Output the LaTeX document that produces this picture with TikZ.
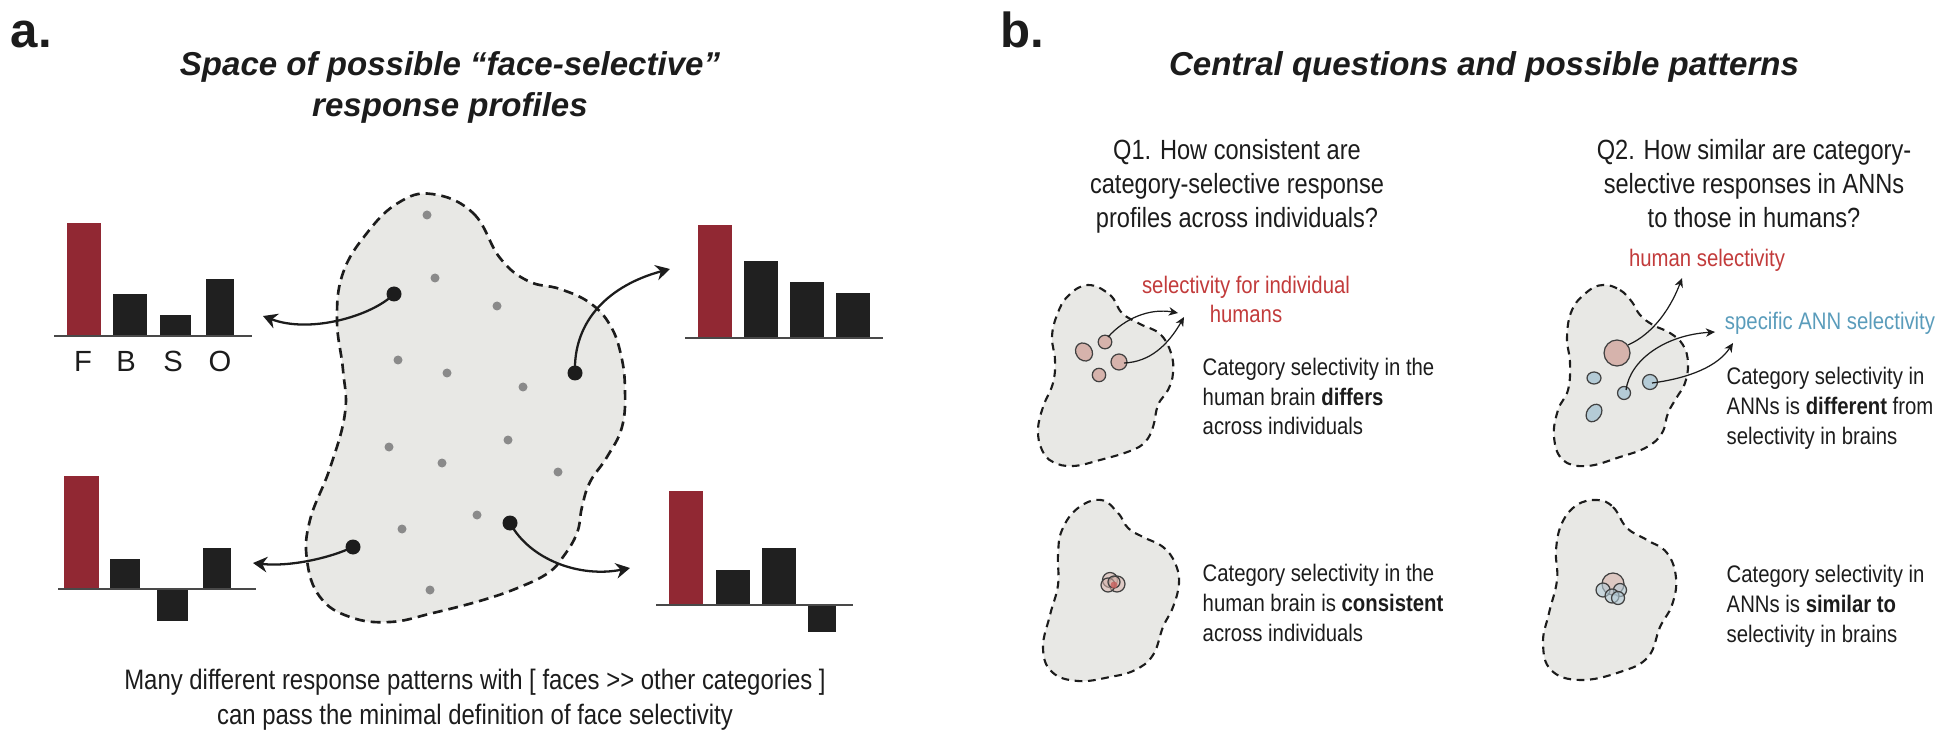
\documentclass[tikz,border=0pt]{standalone}
\usepackage{fontspec}
\setmainfont{Liberation Sans}
\newfontfamily\narrowfont[FakeStretch=0.85]{Liberation Sans}
\usetikzlibrary{arrows.meta}
\definecolor{barred}{HTML}{912833}
\definecolor{barblack}{HTML}{202020}
\definecolor{blobfill}{HTML}{E8E8E5}
\definecolor{dotgray}{HTML}{8A8A8A}
\definecolor{labelred}{HTML}{C23B3B}
\definecolor{labelblue}{HTML}{5A9CBB}
\definecolor{pinkfill}{HTML}{D6B3AC}
\definecolor{bluefill}{HTML}{B4CBD6}
\definecolor{inkdark}{HTML}{1C1C1C}
\tikzset{
  bigblob/.style={fill=blobfill, draw=inkdark, line width=0.75pt, dash pattern=on 2.8pt off 1.7pt},
  smallblob/.style={fill=blobfill, draw=inkdark, line width=0.6pt, dash pattern=on 2.2pt off 1.6pt},
  graydot/.style={fill=dotgray},
  bigdot/.style={fill=inkdark},
  redbar/.style={fill=barred},
  blackbar/.style={fill=barblack},
  axisline/.style={draw=inkdark!80, line width=0.45pt},
  bigarrow/.style={-{Stealth[length=4pt,width=4.4pt,inset=1.3pt]}, line width=0.65pt, draw=inkdark},
  thinarrow/.style={-{Stealth[length=2.6pt,width=2.4pt,inset=0.8pt]}, line width=0.35pt, draw=inkdark},
  pinkspot/.style={fill=pinkfill, draw=black!75, line width=0.35pt},
  bluespot/.style={fill=bluefill, draw=black!75, line width=0.35pt},
  panellabel/.style={font=\fontsize{14}{16}\selectfont\bfseries, anchor=base west, inner sep=0pt, text=inkdark},
  titletext/.style={font=\fontsize{9.4}{11.9}\selectfont\bfseries\itshape, align=center, anchor=base, inner sep=0pt, text=inkdark},
  qtext/.style={font=\narrowfont\fontsize{7.9}{9.8}\selectfont, align=center, anchor=base, inner sep=0pt, text=inkdark},
  bottomtext/.style={font=\narrowfont\fontsize{8.0}{9.7}\selectfont, align=center, anchor=base, inner sep=0pt, text=inkdark},
  bodytext/.style={font=\narrowfont\fontsize{6.8}{8.4}\selectfont, align=left, anchor=base west, inner sep=0pt, text=inkdark},
  redlabel/.style={font=\narrowfont\fontsize{6.8}{8.5}\selectfont, align=center, anchor=base, inner sep=0pt, text=labelred},
  bluelabel/.style={font=\narrowfont\fontsize{6.8}{8.5}\selectfont, align=center, anchor=base, inner sep=0pt, text=labelblue},
  catlabel/.style={font=\fontsize{8.3}{10}\selectfont, anchor=base, inner sep=0pt, text=inkdark}
}
\begin{document}
\begin{tikzpicture}[x=0.01cm,y=-0.01cm]
\useasboundingbox (0,0) rectangle (1946,752);

% ---------------- panel a ----------------
% (multi-line nodes: the base anchor is the baseline of the last line)
\node[panellabel] (labA) at (10,48) {a.};
\node[titletext] (titleA) at (450,117) {Space of possible “face-selective”\\response profiles};

% blob
\draw[bigblob] plot[smooth cycle, tension=0.7] coordinates {
 (432,194) (473,213) (500,258) (528,281) (560,289) (590,303) (610,325) (621,355) (625,390) (622,427)
 (607,457) (590,482) (582,507) (577,533) (563,557) (548,573) (520,587) (483,600) (433,613) (390,622)
 (350,617) (320,597) (307,560) (310,520) (330,468) (345,413) (343,370) (337,320) (343,273) (367,233) (398,203)};

% gray dots
\foreach \p in {(427,215),(435,278),(497,306),(398,360),(447,373),(523,387),(508,440),(389,447),(442,463),(558,472),(477,515),(402,529),(430,590)}
  \fill[graydot] \p circle[radius=4.5];

% response points
\coordinate (pA) at (394,294);
\coordinate (pB) at (353,547);
\coordinate (pC) at (510,523);
\coordinate (pD) at (575,373);
\coordinate (tipTL) at (263,316);
\coordinate (tipBL) at (253,563);
\coordinate (tipTR) at (670,269);
\coordinate (tipBR) at (630,568);

\draw[bigarrow] (pA) .. controls (372,316) and (310,334) .. (tipTL);
\draw[bigarrow] (pB) .. controls (330,558) and (290,567) .. (tipBL);
\draw[bigarrow] (pD) .. controls (573,320) and (610,285) .. (tipTR);
\draw[bigarrow] (pC) .. controls (530,560) and (580,578) .. (tipBR);
\foreach \c in {pA,pB,pC,pD} \fill[bigdot] (\c) circle[radius=7.5];

% top-left chart
\fill[redbar] (67,223) rectangle (101,336);
\fill[blackbar] (113,294) rectangle (147,336);
\fill[blackbar] (160,315) rectangle (191,336);
\fill[blackbar] (206,279) rectangle (234,336);
\draw[axisline] (54,336) -- (252,336);
\node[catlabel] (lF) at (83,371) {F};
\node[catlabel] (lB) at (126,371) {B};
\node[catlabel] (lS) at (173,371) {S};
\node[catlabel] (lO) at (220,371) {O};

% bottom-left chart
\fill[redbar] (64,476) rectangle (99,589);
\fill[blackbar] (110,559) rectangle (140,589);
\fill[blackbar] (157,589) rectangle (188,621);
\fill[blackbar] (203,548) rectangle (231,589);
\draw[axisline] (58,589) -- (256,589);

% top-right chart
\fill[redbar] (698,225) rectangle (732,338);
\fill[blackbar] (744,261) rectangle (778,338);
\fill[blackbar] (790,282) rectangle (824,338);
\fill[blackbar] (836,293) rectangle (870,338);
\draw[axisline] (685,338) -- (883,338);

% bottom-right chart
\fill[redbar] (669,491) rectangle (703,605);
\fill[blackbar] (716,570) rectangle (750,605);
\fill[blackbar] (762,548) rectangle (796,605);
\fill[blackbar] (808,605) rectangle (836,632);
\draw[axisline] (656,605) -- (853,605);

\node[bottomtext] (noteA) at (475,724) {Many different response patterns with [ faces >\kern0pt> other categories ]\\can pass the minimal definition of face selectivity};

% ---------------- panel b ----------------
\node[panellabel] (labB) at (1000,48) {b.};
\node[titletext] (titleB) at (1484,76) {Central questions and possible patterns};

\node[qtext] (q1) at (1237,228) {Q1. How consistent are\\category-selective response\\profiles across individuals?};
\node[qtext] (q2) at (1754,228) {Q2. How similar are category-\\selective responses in ANNs\\to those in humans?};

% left column, upper blob
\draw[smallblob] plot[smooth cycle, tension=0.7] coordinates {
 (1088,285) (1110,295) (1122,313) (1140,324) (1160,334) (1171,353) (1173,373) (1168,390) (1158,405)
 (1153,427) (1145,442) (1130,451) (1100,460) (1073,466) (1053,462) (1042,450) (1038,430) (1043,407)
 (1053,383) (1055,360) (1052,337) (1057,315) (1068,296)};
\draw[pinkspot, rotate around={35:(1084,352)}] (1084,352) ellipse[x radius=8, y radius=9.5];
\draw[pinkspot] (1105,342) circle[radius=6.8];
\draw[pinkspot] (1119,362) circle[radius=8];
\draw[pinkspot] (1099,375) circle[radius=6.7];
\coordinate (s1) at (1108,337);
\coordinate (s2) at (1124,363);
\coordinate (t1) at (1178,313);
\coordinate (t2) at (1184,317);
\draw[thinarrow] (s1) .. controls (1125,318) and (1150,308) .. (t1);
\draw[thinarrow] (s2) .. controls (1150,362) and (1168,345) .. (t2);
\node[redlabel] (indiv) at (1246,323) {selectivity for individual\\humans};
\node[bodytext] (d1) at (1202,435) {Category selectivity in the\\human brain \textbf{differs}\\across individuals};

% left column, lower blob
\draw[smallblob] plot[smooth cycle, tension=0.7] coordinates {
 (1101,500) (1118,513) (1128,528) (1143,537) (1163,547) (1175,563) (1179,583) (1173,607) (1163,627)
 (1153,655) (1135,670) (1110,677) (1078,681) (1052,672) (1043,648) (1050,615) (1058,585) (1058,555)
 (1062,530) (1078,508)};
\begin{scope}[fill opacity=0.55]
\draw[pinkspot] (1110,580) circle[radius=7.5];
\draw[pinkspot] (1117,584) circle[radius=8];
\draw[pinkspot] (1108,585) circle[radius=7];
\draw[pinkspot] (1114,582) circle[radius=6];
\end{scope}
\fill[fill=labelred!70!pinkfill, fill opacity=0.8] (1114,585) circle[radius=3.5];
\node[bodytext] (d2) at (1202,641) {Category selectivity in the\\human brain is \textbf{consistent}\\across individuals};

% right column, upper blob
\draw[smallblob] plot[smooth cycle, tension=0.7] coordinates {
 (1603,285) (1620,290) (1632,302) (1640,315) (1653,325) (1670,333) (1683,345) (1688,363) (1685,383)
 (1677,397) (1668,413) (1662,433) (1647,447) (1620,457) (1587,466) (1563,460) (1554,437) (1558,410)
 (1568,390) (1570,363) (1567,337) (1572,310) (1587,292)};
\draw[pinkspot] (1617,353) circle[radius=13];
\draw[bluespot] (1594,378) ellipse[x radius=7, y radius=6];
\draw[bluespot] (1650,382) circle[radius=7.5];
\draw[bluespot] (1624,393) circle[radius=6.5];
\draw[bluespot, rotate around={-35:(1594,413)}] (1594,413) ellipse[x radius=7, y radius=9.5];
\coordinate (hs) at (1628,345);
\coordinate (ht) at (1682,278);
\coordinate (as1) at (1626,390);
\coordinate (at1) at (1715,332);
\coordinate (as2) at (1652,383);
\coordinate (at2) at (1733,343);
\draw[thinarrow] (hs) .. controls (1655,333) and (1672,305) .. (ht);
\draw[thinarrow] (as1) .. controls (1630,360) and (1665,335) .. (at1);
\draw[thinarrow] (as2) .. controls (1690,378) and (1718,366) .. (at2);
\node[redlabel] (humsel) at (1707,267) {human selectivity};
\node[bluelabel] (annsel) at (1830,330) {specific ANN selectivity};
\node[bodytext] (d3) at (1726,444) {Category selectivity in\\ANNs is \textbf{different} from\\selectivity in brains};

% right column, lower blob
\draw[smallblob] plot[smooth cycle, tension=0.7] coordinates {
 (1597,500) (1613,507) (1627,528) (1647,540) (1667,553) (1676,578) (1672,605) (1660,627) (1648,657)
 (1620,672) (1580,680) (1551,670) (1543,643) (1549,613) (1557,580) (1556,550) (1562,523) (1577,505)};
\begin{scope}[fill opacity=0.6]
\draw[pinkspot] (1613,584) circle[radius=11];
\draw[bluespot] (1603,590) circle[radius=7];
\draw[bluespot] (1620,590) circle[radius=6.5];
\draw[bluespot] (1612,596) circle[radius=7];
\draw[bluespot] (1618,598) circle[radius=6.5];
\end{scope}
\node[bodytext] (d4) at (1726,642) {Category selectivity in\\ANNs is \textbf{similar to}\\selectivity in brains};

\end{tikzpicture}
\end{document}
